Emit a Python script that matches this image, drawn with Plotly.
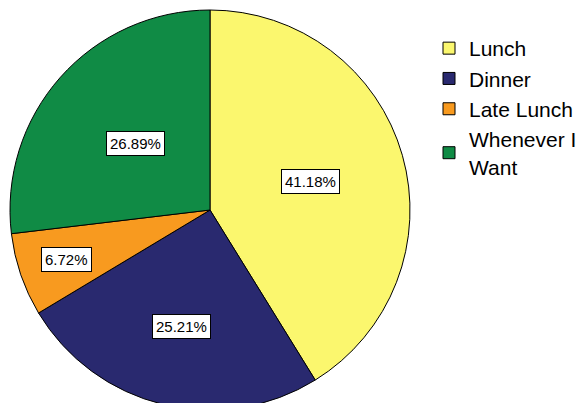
import math
import plotly.graph_objects as go

# Share of respondents by preferred meal time
categories = ["Lunch", "Dinner", "Late Lunch", "Whenever I<br>Want"]
percentages = [41.18, 25.21, 6.72, 26.89]
colors = ["#fbf76e", "#29296f", "#f89a1f", "#108b45"]

W, H = 586, 420
CX, CY, R = 210, 210, 200  # pie centre and radius in pixels

# radial placement of each value label, as a fraction of the radius
label_frac = [0.52, 0.6, 0.76, 0.5]

fig = go.Figure(
    go.Pie(
        labels=categories,
        values=percentages,
        sort=False,
        direction="clockwise",
        rotation=0,
        textinfo="none",
        hoverinfo="label+percent",
        marker=dict(colors=colors, line=dict(color="#000000", width=1)),
        domain=dict(x=[(CX - R) / W, (CX + R) / W],
                    y=[(H - CY - R) / H, (H - CY + R) / H]),
    )
)

# boxed percentage labels at each slice's mid-angle
total = sum(percentages)
cum = 0.0
annotations = []
for val, frac in zip(percentages, label_frac):
    mid = (cum + val / 2) / total * 2 * math.pi
    cum += val
    dx = R * frac * math.sin(mid)
    dy = R * frac * math.cos(mid)
    annotations.append(dict(
        x=(CX + dx) / W, y=(H - CY + dy) / H,
        xref="paper", yref="paper", xanchor="center", yanchor="middle",
        text=f"{val:.2f}%", showarrow=False,
        font=dict(family="Liberation Sans, Arial, sans-serif", size=15, color="#000000"),
        bgcolor="#ffffff", bordercolor="#000000", borderwidth=1, borderpad=3,
    ))

fig.update_layout(
    width=W, height=H,
    margin=dict(l=0, r=0, t=0, b=0),
    paper_bgcolor="#ffffff",
    showlegend=True,
    legend=dict(
        x=429 / W, y=(H - 28) / H, xanchor="left", yanchor="top",
        font=dict(family="Liberation Sans, Arial, sans-serif", size=21, color="#000000"),
        traceorder="normal", itemclick=False, itemdoubleclick=False,
        tracegroupgap=0,
    ),
    annotations=annotations,
)

fig.write_html("out.html", config={"displayModeBar": False},
               post_script="document.body.style.overflow='hidden';")
